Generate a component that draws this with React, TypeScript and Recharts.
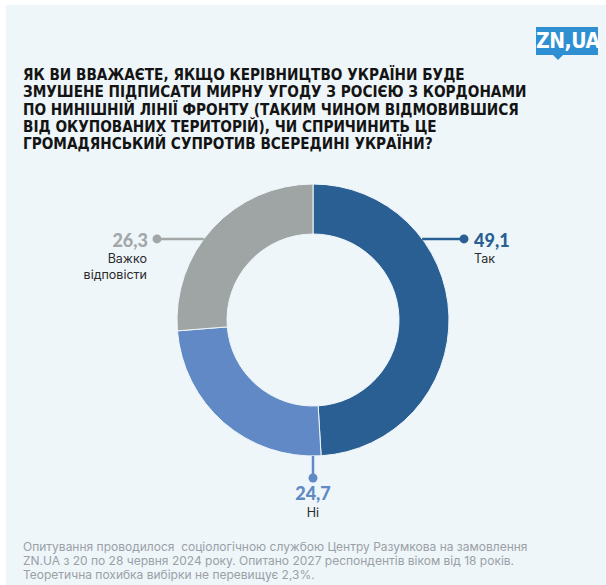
import React from "react";
import { PieChart, Pie, Cell } from "recharts";

const categories = ["Так", "Ні", "Важко відповісти"];
const values = [49.1, 24.7, 26.3];
const valueLabels = ["49,1", "24,7", "26,3"];
const colors = ["#2a5f93", "#6189c5", "#9fa4a4"];
const labelColors = ["#2a5f93", "#6189c5", "#a3a7a8"];

const title = [
  "ЯК ВИ ВВАЖАЄТЕ, ЯКЩО КЕРІВНИЦТВО УКРАЇНИ БУДЕ",
  "ЗМУШЕНЕ ПІДПИСАТИ МИРНУ УГОДУ З РОСІЄЮ З КОРДОНАМИ",
  "ПО НИНІШНІЙ ЛІНІЇ ФРОНТУ (ТАКИМ ЧИНОМ ВІДМОВИВШИСЯ",
  "ВІД ОКУПОВАНИХ ТЕРИТОРІЙ), ЧИ СПРИЧИНИТЬ ЦЕ",
  "ГРОМАДЯНСЬКИЙ СУПРОТИВ ВСЕРЕДИНІ УКРАЇНИ?",
];
const footer = [
  "Опитування проводилося  соціологічною службою Центру Разумкова на замовлення",
  "ZN.UA з 20 по 28 червня 2024 року. Опитано 2027 респондентів віком від 18 років.",
  "Теоретична похибка вибірки не перевищує 2,3%.",
];

const data = categories.map((c, i) => ({ name: c, value: values[i] }));

// label anchor angle on the ring (degrees, math convention) and direction
const anchorAngle = [36.6, -90, 143.4];
const anchorDir = ["right", "down", "left"];

const BG = "#eef6fa";

const renderLabel = (props: any) => {
  const { cx, cy, outerRadius, index } = props;
  const a = (anchorAngle[index] * Math.PI) / 180;
  const x0 = cx + outerRadius * Math.cos(a);
  const y0 = cy - outerRadius * Math.sin(a);
  const col = labelColors[index];
  const valFont = "Lato, 'Open Sans', sans-serif";
  const subFont = "Inter, Roboto, sans-serif";
  if (anchorDir[index] === "right") {
    const x1 = cx + 151;
    return (
      <g key={"l" + index}>
        <line x1={x0} y1={y0} x2={x1} y2={y0} stroke={col} strokeWidth={2.5} />
        <circle cx={x1} cy={y0} r={4.5} fill={col} />
        <text x={x1 + 10} y={y0 + 8} fill={col} fontFamily={valFont} fontWeight={900} fontSize={18}>
          {valueLabels[index]}
        </text>
        <text x={x1 + 10} y={y0 + 24} fill="#2b2b2b" fontFamily={subFont} fontSize={12.5}>
          {categories[index]}
        </text>
      </g>
    );
  }
  if (anchorDir[index] === "left") {
    const x1 = cx - 156;
    const words = categories[index].split(" ");
    return (
      <g key={"l" + index}>
        <line x1={x0} y1={y0} x2={x1} y2={y0} stroke={col} strokeWidth={2.5} />
        <circle cx={x1} cy={y0} r={4.5} fill={col} />
        <text x={x1 - 9} y={y0 + 8} fill={col} textAnchor="end" fontFamily={valFont} fontWeight={900} fontSize={18}>
          {valueLabels[index]}
        </text>
        {words.map((w, k) => (
          <text key={k} x={x1 - 10} y={y0 + 24 + k * 16} fill="#2b2b2b" textAnchor="end" fontFamily={subFont} fontSize={12.5}>
            {w}
          </text>
        ))}
      </g>
    );
  }
  const y1 = cy + outerRadius + 22;
  return (
    <g key={"l" + index}>
      <line x1={x0} y1={y0} x2={x0} y2={y1} stroke={col} strokeWidth={2.5} />
      <circle cx={x0} cy={y1} r={4.5} fill={col} />
      <text x={x0} y={y1 + 22} fill={col} textAnchor="middle" fontFamily={valFont} fontWeight={900} fontSize={18}>
        {valueLabels[index]}
      </text>
      <text x={x0} y={y1 + 39} fill="#2b2b2b" textAnchor="middle" fontFamily={subFont} fontSize={12.5}>
        {categories[index]}
      </text>
    </g>
  );
};

export default function App() {
  return (
    <div style={{ position: "absolute", left: 0, top: 0, width: 606, height: 585, background: "#ffffff", overflow: "hidden" }}>
      <div style={{ position: "absolute", left: 6, top: 5, width: 600, height: 580, background: BG }} />
      {/* logo */}
      <div style={{ position: "absolute", left: 536, top: 27, width: 62, height: 28, background: "#2e8fd3" }} />
      <svg style={{ position: "absolute", left: 552, top: 54 }} width={14} height={8}>
        <polygon points="0,0 12,0 6,6" fill="#2e8fd3" />
      </svg>
      <div
        style={{
          position: "absolute",
          left: 536,
          top: 27,
          width: 62,
          height: 28,
          color: "#ffffff",
          fontFamily: "'DejaVu Sans Condensed', 'DejaVu Sans', sans-serif",
          fontWeight: 700,
          fontSize: 21,
          lineHeight: "28px",
          textAlign: "center",
          letterSpacing: -0.5,
        }}
      >
        ZN,UA
      </div>
      {/* title */}
      <div
        style={{
          position: "absolute",
          left: 23,
          top: 67,
          fontFamily: "'DejaVu Sans Condensed', 'DejaVu Sans', sans-serif",
          fontWeight: 700,
          fontSize: 15.2,
          lineHeight: "17.3px",
          color: "#141414",
          whiteSpace: "nowrap",
        }}
      >
        {title.map((t, i) => (
          <div key={i}>{t}</div>
        ))}
      </div>
      <div style={{ position: "absolute", left: 0, top: 0 }}>
        <PieChart width={606} height={585} margin={{ top: 0, right: 0, bottom: 0, left: 0 }}>
          <Pie
            data={data}
            dataKey="value"
            nameKey="name"
            cx={313}
            cy={320}
            innerRadius={86}
            outerRadius={136}
            startAngle={90}
            endAngle={-270}
            stroke="#eef6fa"
            strokeWidth={1}
            isAnimationActive={false}
            labelLine={false}
            label={renderLabel}
          >
            {data.map((d, i) => (
              <Cell key={d.name} fill={colors[i]} />
            ))}
          </Pie>
        </PieChart>
      </div>
      {/* footer */}
      <div
        style={{
          position: "absolute",
          left: 23,
          top: 540,
          fontFamily: "Inter, Roboto, sans-serif",
          fontSize: 12,
          lineHeight: "14px",
          color: "#9ba0a6",
          whiteSpace: "pre",
        }}
      >
        {footer.map((t, i) => (
          <div key={i}>{t}</div>
        ))}
      </div>
    </div>
  );
}
